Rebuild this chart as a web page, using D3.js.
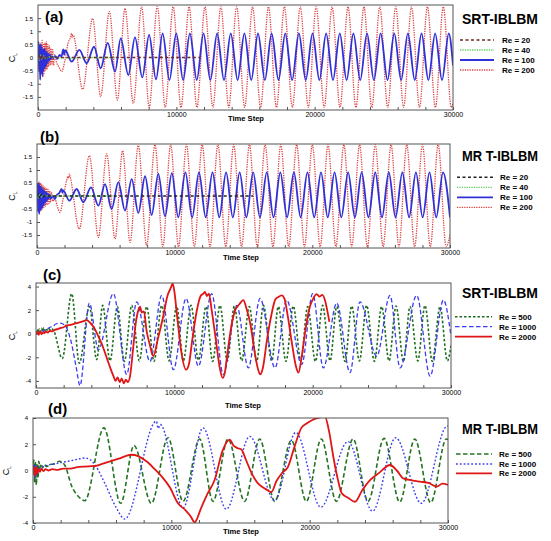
<!DOCTYPE html>
<html lang="en">
<head>
<meta charset="utf-8">
<title>Lift coefficient histories</title>
<script src="https://d3js.org/d3.v7.min.js"></script>
<style>
  body { margin: 0; background: #fff; }
  svg { display: block; font-family: "Liberation Sans", Arial, sans-serif; }
</style>
</head>
<body>
<script>
// tick labels
var timeTicks = [0, 10000, 20000, 30000];
var clTicksAB = [-1.5, -1, -0.5, 0, 0.5, 1, 1.5];
var clTicksCD = [-4, -2, 0, 2, 4];

// legend labels
var reLow = ["Re = 20", "Re = 40", "Re = 100", "Re = 200"];
var reHigh = ["Re = 500", "Re = 1000", "Re = 2000"];
var titles = ["SRT-IBLBM", "MR T-IBLBM", "SRT-IBLBM", "MR T-IBLBM"];

// [time step, C_L] (mostly peaks and troughs)
var a_re20 = [[0,0],[100,0.12],[200,-0.1],[300,0.08],[400,-0.06],[500,0.05],[700,-0.03],[900,0.02],[1500,0],[4000,0],[8000,0],[11700,0]];
var a_re40 = [[0,0],[100,-0.1],[200,0.1],[300,-0.08],[400,0.06],[600,-0.04],[800,0.02],[1200,0],[2500,-0.02],[4000,0],[5800,0]];
var a_re100 = [[0,0],[40,0.6],[80,-0.5],[120,0.45],[160,-0.85],[200,0.5],[240,-0.6],[280,0.4],[320,-0.7],[360,0.3],[400,-0.5],[450,0.35],[500,-0.4],[550,0.25],[600,-0.3],[650,0.2],[700,-0.2],[760,0.15],[820,-0.12],[880,0.1],[940,-0.05],[1000,0.05],[1100,-0.02],[1250,0.05],[1400,-0.05],[1550,0.1],[1700,0.05],[1830,0.31],[1900,0.1],[1960,0.28],
  [2430,-0.16],[2990,0.29],[3520,-0.22],[4050,0.41],[4530,-0.41],[5040,0.56],[5570,-0.54],[5980,0.73],[6530,-0.67],[7010,0.77],[7540,-0.76],[8030,0.86],[8530,-0.83],[9010,0.92],[9500,-0.86],
  [9995,0.92],[10490,-0.86],[10980,0.92],[11475,-0.86],[11965,0.92],[12460,-0.86],[12950,0.92],[13445,-0.86],[13935,0.92],[14430,-0.86],[14920,0.92],[15415,-0.86],[15905,0.92],[16400,-0.86],[16890,0.92],[17385,-0.86],[17875,0.92],[18370,-0.86],[18860,0.92],[19355,-0.86],[19845,0.92],[20340,-0.86],[20830,0.92],[21325,-0.86],[21815,0.92],[22310,-0.86],[22800,0.92],[23295,-0.86],[23785,0.92],[24280,-0.86],[24770,0.92],[25265,-0.86],[25755,0.92],[26250,-0.86],[26740,0.92],[27235,-0.86],[27725,0.92],[28220,-0.86],[28710,0.92],[29205,-0.86],[29695,0.92],[30000,-0.3]];
var a_re200 = [[0,0],[50,-0.4],[100,0.5],[150,-0.7],[200,0.55],[250,-0.6],[300,0.65],[350,-0.75],[400,0.5],[450,-0.6],[500,0.55],[550,-0.5],[600,0.6],[650,-0.45],[700,0.5],[760,-0.35],[820,0.45],[880,-0.3],[940,0.35],[1000,-0.25],[1060,0.3],[1120,-0.3],[1200,0.1],[1350,-0.2],[1500,-0.35],[1710,-0.54],[1950,-0.1],[2200,0.6],[2300,0.7],[2380,0.82],[2430,0.92],[2480,0.76],[2530,0.86],
  [3230,-1.21],[3950,1.49],[4530,-1.49],[5160,1.75],[5740,-1.62],[6290,1.87],[6890,-1.75],[7490,1.93],[8040,-1.9],[8620,1.94],
  [9200,-1.9],[9770,1.93],[10340,-1.9],[10920,1.93],[11490,-1.9],[12070,1.93],[12640,-1.9],[13220,1.93],[13790,-1.9],[14360,1.93],[14940,-1.9],[15510,1.93],[16090,-1.9],[16660,1.93],[17240,-1.9],[17810,1.93],[18390,-1.9],[18960,1.93],[19540,-1.9],[20110,1.93],[20690,-1.9],[21260,1.93],[21830,-1.9],[22410,1.93],[22980,-1.9],[23560,1.93],[24130,-1.9],[24710,1.93],[25280,-1.9],[25860,1.93],[26430,-1.9],[27000,1.93],[27580,-1.9],[28150,1.93],[28730,-1.9],[29300,1.93],[29880,-1.9],[30000,-1.75]];

var b_re20 = [[0,0],[100,0.1],[200,-0.1],[300,0.06],[400,-0.05],[600,0.03],[800,0],[2000,0],[6000,0],[10000,0],[13000,0],[15700,0]];
var b_re40 = [[0,0],[100,-0.08],[200,0.08],[350,-0.05],[500,0.04],[800,0],[2500,0],[4000,0],[5500,0]];
var b_re100 = [[0,0],[40,0.45],[80,-0.6],[120,0.5],[160,-0.7],[200,0.4],[240,-0.55],[280,0.35],[320,-0.5],[360,0.3],[400,-0.45],[450,0.25],[500,-0.35],[550,0.2],[600,-0.25],[660,0.15],[720,-0.2],[780,0.1],[840,-0.1],[900,0.05],[1000,-0.1],[1150,0],[1300,-0.12],[1450,0.05],[1600,0.1],[1790,0.27],[1850,0.12],[1900,0.22],
  [2350,-0.18],[2880,0.27],[3370,-0.24],[3920,0.33],[4460,-0.37],[4940,0.46],[5420,-0.5],[5910,0.53],[6390,-0.56],[6880,0.65],[7360,-0.65],[7850,0.76],[8330,-0.73],[8810,0.85],[9300,-0.78],[9795,0.88],[10260,-0.82],
  [10780,0.91],[11270,-0.82],[11765,0.91],[12255,-0.82],[12750,0.91],[13240,-0.82],[13735,0.91],[14225,-0.82],[14720,0.91],[15210,-0.82],[15705,0.91],[16195,-0.82],[16690,0.91],[17180,-0.82],[17675,0.91],[18165,-0.82],[18660,0.91],[19150,-0.82],[19645,0.91],[20135,-0.82],[20630,0.91],[21120,-0.82],[21615,0.91],[22105,-0.82],[22600,0.91],[23090,-0.82],[23585,0.91],[24075,-0.82],[24570,0.91],[25060,-0.82],[25555,0.91],[26045,-0.82],[26540,0.91],[27030,-0.82],[27525,0.91],[28015,-0.82],[28510,0.91],[29000,-0.82],[29495,0.91],[30000,-0.82]];
var b_re200 = [[0,0],[50,0.4],[100,-0.5],[150,0.55],[200,-0.6],[250,0.5],[300,-0.55],[350,0.45],[400,-0.5],[450,0.4],[500,-0.45],[560,0.35],[620,-0.4],[680,0.3],[740,-0.35],[800,0.25],[860,-0.3],[920,0.2],[980,-0.25],[1050,0.15],[1150,-0.2],[1300,-0.1],[1450,-0.35],[1670,-0.63],[1900,-0.1],[2150,0.6],[2250,0.75],[2300,0.68],[2350,0.85],[2420,0.72],
  [3070,-1.27],[3800,1.55],[4460,-1.59],[5060,1.62],[5670,-1.65],[6220,1.74],[6760,-1.78],[7360,1.94],[7960,-1.9],[8570,1.97],
  [9140,-1.95],[9710,1.97],[10280,-1.95],[10860,1.97],[11430,-1.95],[12000,1.97],[12570,-1.95],[13140,1.97],[13710,-1.95],[14290,1.97],[14860,-1.95],[15430,1.97],[16000,-1.95],[16570,1.97],[17140,-1.95],[17710,1.97],[18290,-1.95],[18860,1.97],[19430,-1.95],[20000,1.97],[20570,-1.95],[21140,1.97],[21710,-1.95],[22290,1.97],[22860,-1.95],[23430,1.97],[24000,-1.95],[24570,1.97],[25140,-1.95],[25720,1.97],[26290,-1.95],[26860,1.97],[27430,-1.95],[28000,1.97],[28570,-1.95],[29140,1.97],[29720,-1.95],[30000,-1.5]];

var c_re500 = [[0,0],[80,0.35],[160,0.1],[240,0.4],[320,0.15],[400,0.45],[480,0.2],[560,0.5],[640,0.25],[720,0.45],[800,0.3],[900,0.5],[1000,0.35],[1100,0.45],[1300,0.2],
  [1900,-2.1],[2580,3.4],[3130,-2.5],[3860,2.3],[4390,-2.2],[4820,2.4],[5350,-2.3],[5880,2.3],[6390,-2.35],[6920,2.4],[7470,-2.3],[8000,2.3],[8530,-2.35],[9090,2.4],[9620,-2.3],[10170,2.35],[10650,-2.3],[11210,2.4],[11740,-2.25],[12290,2.3],[12770,-2.35],[13300,2.4],[13830,-2.3],[14340,2.35],[14870,-2.3],[15420,2.3],[15950,-2.35],[16440,2.4],[17040,-2.3],[17520,2.3],[18070,-2.35],[18600,2.35],[19140,-2.3],[19640,2.3],[20200,-2.35],[20720,2.4],[21260,-2.3],[21740,2.3],[22340,-2.35],[22820,2.35],[23380,-2.3],[23900,2.4],[24460,-2.35],[24990,2.3],[25520,-2.3],[26030,2.35],[26560,-2.35],[27040,2.3],[27600,-2.3],[28120,2.4],[28650,-2.35],[29210,2.3],[29740,-2.3],[30000,-1.0]];
var c_re1000 = [[0,0],[200,0.15],[400,0.05],[600,0.3],[800,0.4],[1000,0.55],[1200,0.6],[1400,0.8],[1740,0.9],[2100,0.7],[2500,-0.5],[2900,-2.8],[3180,-4.4],[3860,2.6],[4510,-1.35],[5590,3.4],[6560,-3.45],[7280,2.7],[8240,-2.35],[9090,3.25],[9930,-3.05],[10850,3.0],[11740,-2.75],[12700,3.4],[13540,-3.45],[14510,2.4],[15350,-2.9],[16200,3.0],[17280,-2.9],[18120,2.85],[19210,-2.6],[20000,3.4],[20770,-2.9],[21740,2.6],[22700,-3.3],[23420,2.7],[24630,-1.9],[25590,3.25],[26320,-2.9],[27520,3.25],[28490,-3.6],[29450,2.85],[30000,-0.2]];
var c_re2000 = [[0,0],[100,0.15],[200,-0.1],[300,0.2],[400,-0.05],[500,0.1],[600,0.05],[700,0.2],[850,0.1],[1000,0.25],[1200,0.2],[1400,0.35],[1600,0.4],[1800,0.5],[2000,0.55],[2200,0.7],[2500,0.75],[2800,0.85],[3100,0.95],[3400,1.05],[3660,1.15],[3900,0.95],[4200,0.5],[4500,-0.2],[4800,-1.0],[5100,-2.0],[5400,-3.0],[5600,-3.6],[5750,-4.0],[5900,-3.7],[6050,-4.1],[6200,-3.8],[6350,-4.2],[6500,-3.9],[6650,-4.1],[6800,-3.6],[7000,-1.5],[7200,0.8],[7400,2.0],[7520,2.3],[7650,1.8],[7800,1.9],[8000,0.2],[8200,-0.8],[8480,-1.9],[8800,-0.5],[9200,1.5],[9500,3.2],[9750,3.9],[9880,4.25],[10000,3.6],[10200,1.5],[10500,-1.5],[10845,-3.05],[11050,-2.6],[11300,-0.5],[11600,1.8],[11900,3.2],[12100,3.4],[12220,3.55],[12350,3.2],[12500,3.4],[12700,2.0],[13000,-0.5],[13300,-3.0],[13500,-3.75],[13650,-3.3],[13800,-2.0],[14100,0.5],[14400,2.0],[14700,2.5],[14990,2.85],[15200,2.2],[15500,0.8],[15800,-1.5],[16050,-3.0],[16200,-3.45],[16400,-2.9],[16700,-0.5],[17000,1.5],[17300,2.9],[17500,3.1],[17760,3.25],[17950,3.0],[18200,1.5],[18500,-0.8],[18800,-2.8],[18970,-3.3],[19200,-2.0],[19500,0.5],[19800,2.3],[20050,3.0],[20290,3.35],[20500,3.15],[20700,3.3],[20900,2.8],[21050,2.0],[21210,1.0]];

var d_re500 = [[0,0],[60,0.8],[120,-0.9],[180,0.6],[240,-1.1],[300,0.5],[360,-0.6],[420,0.7],[500,0.2],[600,0.5],[700,0.2],[800,0.45],[1000,0.3],[1200,0.45],[1500,0.5],[1930,0.7],[2300,0.4],[2800,-1.2],[3300,-2.0],[3740,-2.3],[5130,3.25],[6340,-2.5],[7300,1.9],[8560,-2.5],[9760,2.5],[10850,-2.35],[12050,2.4],[13010,-2.35],[14100,2.4],[15300,-2.35],[16390,2.4],[17470,-2.35],[18680,2.3],[19760,-2.35],[20840,2.4],[21930,-2.35],[23140,2.4],[24220,-2.35],[25380,2.45],[26510,-2.4],[27600,2.4],[28750,-2.45],[29880,2.4],[30000,2.35]];
var d_re1000 = [[0,0],[60,0.5],[120,-0.6],[180,0.4],[240,-0.4],[320,0.3],[420,0.1],[600,0.25],[900,0.35],[1200,0.45],[1600,0.5],[2000,0.6],[2500,0.7],[3000,0.8],[3400,0.9],[3750,0.95],[4100,0.85],[4500,0.4],[5200,-1.0],[6000,-2.8],[6630,-3.7],[8920,3.75],[9050,3.2],[9200,3.5],[10850,-2.85],[12290,3.25],[13980,-2.95],[15670,2.6],[17470,-2.3],[19000,2.9],[20800,-2.8],[22770,2.2],[24550,-3.1],[26220,2.5],[28070,-2.5],[29880,3.35],[30000,3.4]];
var d_re2000 = [[0,0],[50,0.3],[100,-0.4],[150,0.2],[200,-0.3],[260,0.25],[320,-0.2],[400,0.1],[500,-0.1],[600,0.15],[750,-0.05],[900,0.1],[1100,0.0],[1400,0.1],[1800,0.05],[2200,0.15],[2700,0.15],[3200,0.25],[3700,0.3],[4460,0.35],[5000,0.5],[5600,0.7],[6200,0.9],[6700,1.1],[7110,1.2],[7600,1.1],[8200,0.7],[8800,0.1],[9300,-0.45],[9900,-1.3],[10480,-2.5],[11000,-3.0],[11400,-3.5],[11690,-3.95],[11850,-3.7],[12100,-3.0],[12600,-1.8],[13135,-0.7],[13700,1.5],[14220,2.35],[14500,1.9],[14800,1.7],[15060,1.6],[15400,0.8],[15800,-0.2],[16200,-0.9],[16510,-1.2],[16800,-1.4],[17230,-1.65],[17600,-0.8],[18000,-0.2],[18440,0.3],[18900,1.8],[19400,3.25],[19800,3.6],[20200,3.85],[20610,4.0],[21100,4.1],[21400,3.0],[21710,1.05],[22020,-0.6],[22320,-1.74],[22800,-2.1],[23280,-2.38],[23800,-1.5],[24365,-0.73],[25000,-0.2],[25810,0.42],[26300,0.0],[26770,-0.6],[27400,-0.75],[27980,-0.85],[28600,-0.95],[29190,-1.23],[29600,-1.0],[30000,-1.1]];

var W = 551, H = 541;
var svg = d3.select("body").append("svg").attr("width", W).attr("height", H);
svg.append("rect").attr("width", W).attr("height", H).attr("fill", "#fff");

// line styles
var sRed = { color: "#dc4444", width: 1.3, dash: "1.3,1.1" };
var sBlue = { color: "#3030d8", width: 1.8, dash: null };
var sGreenLight = { color: "#5fcf5f", width: 1.3, dash: "1.3,1.1" };

var panels = [
  { name: "a", left: 38, right: 453, top: 5, bottom: 110, yDomain: [-2, 2], yTicks: clTicksAB,
    tag: "(a)", tagX: 45, tagY: 22, stepX: 228, stepY: 121, clX: 15,
    title: titles[0], titleY: 24, lineX: [460, 494], textX: 502, legY: [40, 50, 60, 70],
    series: [
      { data: a_re200, label: reLow[3], st: sRed },
      { data: a_re100, label: reLow[2], st: sBlue },
      { data: a_re40, label: reLow[1], st: sGreenLight },
      { data: a_re20, label: reLow[0], st: { color: "#6e2a2a", width: 1.4, dash: "3,2.5" } }
    ], legendOrder: [3, 2, 1, 0] },
  { name: "b", left: 37, right: 450, top: 144, bottom: 248, yDomain: [-2, 2], yTicks: clTicksAB,
    tag: "(b)", tagX: 40, tagY: 141.5, stepX: 223, stepY: 260, clX: 15,
    title: titles[1], titleY: 160.5, lineX: [457, 493], textX: 500, legY: [177.3, 187.3, 197.3, 207.3],
    series: [
      { data: b_re200, label: reLow[3], st: sRed },
      { data: b_re100, label: reLow[2], st: sBlue },
      { data: b_re40, label: reLow[1], st: sGreenLight },
      { data: b_re20, label: reLow[0], st: { color: "#222", width: 1.4, dash: "3,2.5" } }
    ], legendOrder: [3, 2, 1, 0] },
  { name: "c", left: 36, right: 451, top: 283, bottom: 388, yDomain: [-4.6, 4.3], yTicks: clTicksCD,
    tag: "(c)", tagX: 43, tagY: 280, stepX: 225, stepY: 408, clX: 15,
    title: titles[2], titleY: 297.5, lineX: [455, 492], textX: 499, legY: [316.7, 326.7, 336.7],
    series: [
      { data: c_re500, label: reHigh[0], st: { color: "#1f6e1f", width: 1.6, dash: "2.5,2" } },
      { data: c_re1000, label: reHigh[1], st: { color: "#3c3cf0", width: 1.3, dash: "4.5,2.5" } },
      { data: c_re2000, label: reHigh[2], st: { color: "#e01515", width: 1.8, dash: null } }
    ], legendOrder: [0, 1, 2] },
  { name: "d", left: 33, right: 448, top: 418, bottom: 523, yDomain: [-4, 4], yTicks: clTicksCD,
    tag: "(d)", tagX: 48, tagY: 414, stepX: 223, stepY: 534, clX: 9,
    title: titles[3], titleY: 433.5, lineX: [456, 492], textX: 499, legY: [454, 464, 473.3],
    series: [
      { data: d_re500, label: reHigh[0], st: { color: "#237323", width: 1.6, dash: "4.5,2.5" } },
      { data: d_re1000, label: reHigh[1], st: { color: "#3c3cf0", width: 1.4, dash: "1.8,2" } },
      { data: d_re2000, label: reHigh[2], st: { color: "#e01515", width: 1.8, dash: null } }
    ], legendOrder: [0, 1, 2] }
];

function styleLine(sel, st) {
  sel.attr("fill", "none").attr("stroke", st.color).attr("stroke-width", st.width);
  if (st.dash) sel.attr("stroke-dasharray", st.dash);
  return sel;
}

panels.forEach(function (p) {
  var x = d3.scaleLinear().domain([0, 30000]).range([p.left, p.right]);
  var y = d3.scaleLinear().domain(p.yDomain).range([p.bottom, p.top]);
  var g = svg.append("g");

  g.append("clipPath").attr("id", "clip-" + p.name)
    .append("rect").attr("x", p.left).attr("y", p.top)
    .attr("width", p.right - p.left).attr("height", p.bottom - p.top);

  // bottom axis: ticks every 2000, labels on the major ones
  var xa = g.append("g").attr("transform", "translate(0," + p.bottom + ")")
    .call(d3.axisBottom(x).tickValues(d3.range(0, 30001, 2000)).tickSize(-3).tickPadding(2)
      .tickFormat(function (d) { return timeTicks.indexOf(d) >= 0 ? String(d) : ""; }));
  xa.select(".domain").remove();
  xa.selectAll("text").attr("font-size", 7).attr("fill", "#000");
  xa.selectAll("line").attr("stroke", "#555");

  var ya = g.append("g").attr("transform", "translate(" + p.left + ",0)")
    .call(d3.axisLeft(y).tickValues(p.yTicks).tickSize(-3).tickPadding(5)
      .tickFormat(function (d) { return String(d); }));
  ya.select(".domain").remove();
  ya.selectAll("text").attr("font-size", 6).attr("fill", "#000");
  ya.selectAll("line").attr("stroke", "#555");

  var line = d3.line().x(function (d) { return x(d[0]); }).y(function (d) { return y(d[1]); })
    .curve(d3.curveMonotoneX);

  var plot = g.append("g").attr("clip-path", "url(#clip-" + p.name + ")");
  p.series.forEach(function (s) {
    styleLine(plot.append("path").datum(s.data).attr("d", line), s.st);
  });

  g.append("rect").attr("x", p.left).attr("y", p.top)
    .attr("width", p.right - p.left).attr("height", p.bottom - p.top)
    .attr("fill", "none").attr("stroke", "#555").attr("stroke-width", 1);

  // panel tag
  g.append("text").attr("x", p.tagX).attr("y", p.tagY).text(p.tag)
    .attr("font-size", 15).attr("font-weight", "bold");

  // axis titles
  g.append("text").attr("x", p.stepX).attr("y", p.stepY).text("Time Step")
    .attr("font-size", 8).attr("font-weight", "bold")
    .attr("textLength", 36).attr("lengthAdjust", "spacingAndGlyphs");
  var cy = (p.top + p.bottom) / 2;
  var cl = g.append("text").attr("transform", "translate(" + p.clX + "," + cy + ") rotate(-90)")
    .attr("text-anchor", "middle").attr("font-size", 9);
  cl.append("tspan").text("C");
  cl.append("tspan").attr("font-size", 5).attr("dy", 2).text("L");

  // legend
  g.append("text").attr("x", 462).attr("y", p.titleY).text(p.title)
    .attr("font-size", 14).attr("font-weight", "bold")
    .attr("textLength", 76).attr("lengthAdjust", "spacingAndGlyphs");
  p.legendOrder.forEach(function (k, i) {
    var s = p.series[k], ly = p.legY[i];
    styleLine(g.append("line").attr("x1", p.lineX[0]).attr("x2", p.lineX[1])
      .attr("y1", ly).attr("y2", ly), s.st);
    g.append("text").attr("x", p.textX).attr("y", ly + 3).text(s.label)
      .attr("font-size", 8).attr("font-weight", "bold");
  });
});
</script>
</body>
</html>
